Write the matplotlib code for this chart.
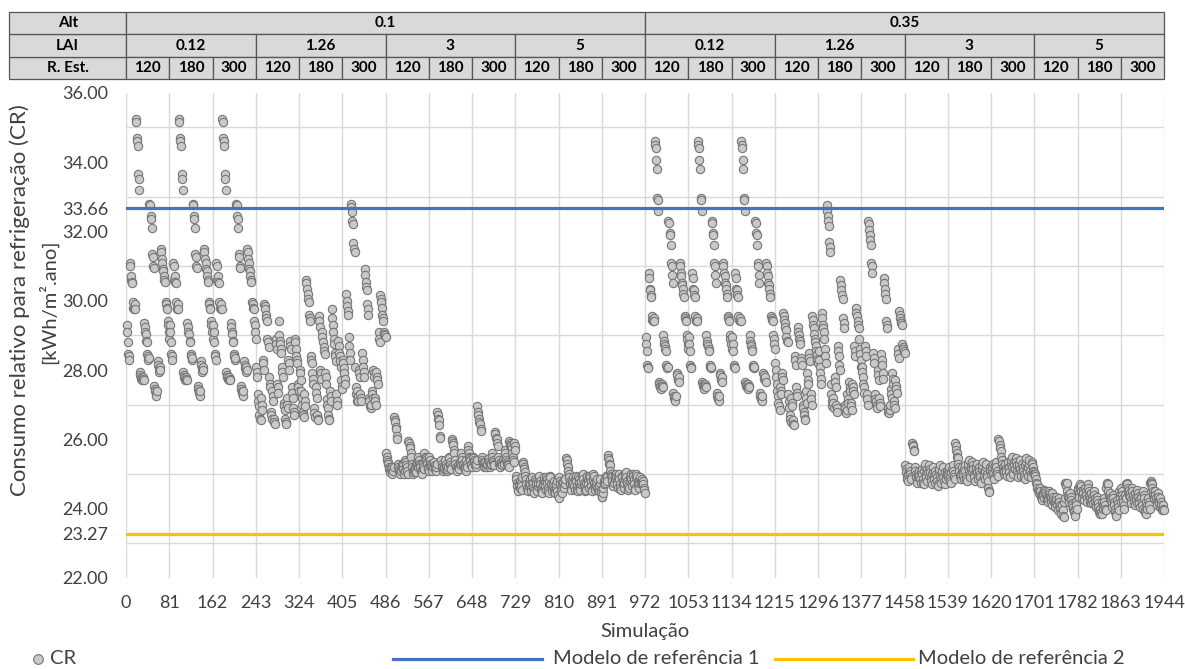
import matplotlib
matplotlib.use("Agg")
import matplotlib.pyplot as plt
from matplotlib.patches import Rectangle
from matplotlib.lines import Line2D
from matplotlib.ticker import MultipleLocator
import numpy as np

plt.rcParams['font.family'] = ['Lato', 'DejaVu Sans']

# ---------------- data ----------------
alt_vals = ["0.1", "0.35"]
lai_vals = ["0.12", "1.26", "3", "5"]
rest_vals = ["120", "180", "300"]
n_per = 81

ref1_label = "33.66"
ref1_level = 32.66   # level at which the line is drawn in the reference picture
ref2_label = "23.27"
ref2_level = 23.27

# Alt 0.1, LAI 0.12 (same pattern for R.Est 120/180/300)
A = [29.3, 29.1, 28.8, 28.45, 28.4, 28.3, 31.1, 31.0, 30.6,
     30.7, 30.55, 30.5, 29.95, 29.8, 29.75, 29.9, 29.75, 35.25,
     35.15, 34.7, 34.6, 34.45, 33.65, 33.5, 33.2, 27.95, 27.85,
     27.8, 27.75, 27.7, 27.8, 27.75, 27.7, 29.35, 29.25, 29.1,
     29.05, 28.85, 28.8, 28.45, 28.4, 28.3, 28.35, 32.8, 32.75,
     32.45, 32.35, 32.1, 31.35, 31.25, 31.0, 30.95, 27.55, 27.45,
     27.4, 27.35, 27.25, 27.4, 28.25, 28.15, 28.05, 27.95, 28.1,
     28.0, 31.5, 31.4, 31.2, 31.1, 30.9, 30.85, 30.7, 30.6,
     30.55, 29.95, 29.9, 29.8, 29.75, 29.4, 29.3, 29.1, 28.9]
# Alt 0.1, LAI 1.26
C1 = [28.1, 27.95, 27.8, 27.3, 27.1, 26.95, 26.7, 26.6, 26.55,
      27.2, 27.0, 26.85, 28.3, 28.2, 28.0, 29.9, 29.85, 29.75,
      29.6, 29.5, 29.4, 28.9, 28.8, 28.65, 27.8, 27.6, 27.5,
      26.8, 26.7, 26.6, 27.4, 27.25, 27.1, 26.6, 26.5, 26.45,
      28.9, 28.75, 28.6, 27.6, 27.5, 27.35, 29.4, 29.0, 28.85,
      28.75, 28.6, 28.5, 28.1, 27.95, 27.8, 27.05, 26.95, 26.85,
      26.6, 26.5, 26.45, 27.2, 27.0, 26.9, 28.3, 28.2, 28.0,
      28.85, 28.7, 28.6, 27.5, 27.35, 27.2, 26.9, 26.8, 26.7,
      28.9, 28.8, 28.6, 28.4, 28.3, 28.2, 27.6, 27.5, 27.4]
C2 = [28.0, 27.9, 27.7, 27.4, 27.2, 27.0, 26.8, 26.7, 26.65,
      27.3, 27.1, 26.95, 30.6, 30.5, 30.35, 30.2, 30.05, 29.95,
      29.6, 29.5, 29.4, 28.4, 28.3, 28.2, 27.9, 27.75, 27.6,
      26.9, 26.75, 26.65, 27.5, 27.35, 27.2, 26.7, 26.6, 26.55,
      29.55, 29.4, 29.25, 28.0, 27.9, 27.75, 29.1, 28.95, 28.8,
      28.65, 28.55, 28.45, 27.9, 27.8, 27.6, 27.15, 27.0, 26.9,
      26.7, 26.6, 26.55, 27.4, 27.25, 27.1, 29.75, 29.5, 29.3,
      29.1, 28.9, 28.75, 28.5, 28.4, 28.25, 27.3, 27.1, 27.0,
      28.85, 28.7, 28.5, 28.4, 28.25, 28.1, 27.7, 27.55, 27.45]
C3 = [28.3, 28.2, 28.05, 27.9, 27.75, 27.6, 30.2, 30.0, 29.85,
      29.7, 29.6, 28.95, 28.7, 28.5, 28.3, 32.8, 32.7, 32.55,
      32.3, 32.2, 31.65, 31.5, 31.4, 28.1, 27.5, 27.3, 27.1,
      27.4, 27.25, 27.1, 28.0, 27.9, 27.8, 27.3, 27.2, 27.1,
      28.5, 28.3, 28.1, 27.95, 27.8, 30.9, 30.75, 30.55, 30.4,
      30.3, 29.9, 29.75, 29.6, 27.2, 27.1, 26.95, 26.9, 27.0,
      27.4, 27.3, 27.2, 28.0, 27.9, 27.8, 27.2, 27.1, 27.0,
      27.95, 27.8, 27.7, 27.6, 29.1, 28.9, 28.8, 30.15, 30.05,
      29.95, 29.8, 29.6, 29.5, 29.4, 29.1, 29.05, 29.0, 28.95]
# Alt 0.1, LAI 3
D1 = [25.6, 25.5, 25.4, 25.35, 25.3, 25.2, 25.15, 25.1, 25.05,
      25.2, 25.15, 25.1, 25.0, 25.1, 25.2, 26.65, 26.55, 26.5,
      26.35, 26.3, 26.1, 26.0, 25.3, 25.2, 25.15, 25.1, 25.05,
      25.0, 25.1, 25.2, 25.3, 25.25, 25.15, 25.05, 25.0, 25.1,
      25.4, 25.35, 25.25, 25.2, 25.1, 25.0, 25.95, 25.9, 25.8,
      25.75, 25.6, 25.5, 25.3, 25.2, 25.1, 25.0, 25.05, 25.15,
      25.2, 25.1, 25.05, 25.3, 25.25, 25.2, 25.5, 25.4, 25.3,
      25.25, 25.2, 25.1, 25.1, 25.05, 25.0, 25.3, 25.2, 25.15,
      25.6, 25.5, 25.45, 25.4, 25.35, 25.3, 25.2, 25.15, 25.1]
D2 = [25.5, 25.4, 25.3, 25.25, 25.2, 25.15, 25.1, 25.2, 25.3,
      25.35, 25.25, 25.15, 25.1, 25.2, 25.3, 26.8, 26.7, 26.6,
      26.55, 26.4, 26.1, 26.05, 25.4, 25.3, 25.2, 25.15, 25.1,
      25.15, 25.2, 25.3, 25.4, 25.3, 25.2, 25.1, 25.15, 25.2,
      25.5, 25.45, 25.35, 25.25, 25.2, 25.15, 26.0, 25.95, 25.9,
      25.85, 25.7, 25.6, 25.4, 25.3, 25.2, 25.15, 25.1, 25.2,
      25.25, 25.2, 25.15, 25.35, 25.3, 25.25, 25.6, 25.5, 25.4,
      25.3, 25.25, 25.2, 25.2, 25.15, 25.1, 25.4, 25.3, 25.2,
      25.8, 25.7, 25.6, 25.5, 25.45, 25.4, 25.3, 25.25, 25.2]
D3 = [25.5, 25.45, 25.4, 25.35, 25.3, 25.25, 25.2, 25.3, 25.4,
      26.95, 26.8, 26.7, 26.6, 26.5, 26.45, 26.3, 26.25, 25.5,
      25.4, 25.35, 25.3, 25.25, 25.2, 25.3, 25.35, 25.25, 25.2,
      25.25, 25.3, 25.4, 25.45, 25.35, 25.3, 25.2, 25.25, 25.3,
      25.6, 25.5, 25.4, 25.35, 25.3, 25.25, 26.2, 26.15, 26.05,
      26.0, 25.9, 25.8, 25.5, 25.4, 25.3, 25.25, 25.2, 25.3,
      25.35, 25.3, 25.25, 25.4, 25.35, 25.3, 25.7, 25.6, 25.5,
      25.4, 25.35, 25.3, 25.3, 25.25, 25.2, 25.95, 25.9, 25.85,
      25.8, 25.75, 25.6, 25.5, 25.4, 25.35, 25.9, 25.8, 25.7]
# Alt 0.1, LAI 5
E1 = [24.95, 24.85, 24.75, 24.65, 24.55, 24.5, 24.7, 24.8, 24.6,
      24.75, 24.65, 24.55, 24.9, 25.35, 25.3, 25.2, 25.15, 25.05,
      24.95, 24.85, 24.7, 24.6, 24.55, 24.5, 24.65, 24.75, 24.85,
      24.7, 24.6, 24.5, 24.8, 24.9, 24.75, 24.6, 24.55, 24.45,
      24.85, 24.8, 24.7, 24.6, 24.5, 24.65, 24.75, 24.9, 24.95,
      24.8, 24.7, 24.6, 24.55, 24.5, 24.45, 24.7, 24.8, 24.9,
      24.75, 24.65, 24.55, 24.9, 24.85, 24.75, 24.6, 24.5, 24.45,
      24.8, 24.95, 24.9, 24.7, 24.6, 24.5, 24.65, 24.75, 24.8,
      24.55, 24.5, 24.45, 24.6, 24.7, 24.8, 24.5, 24.4, 24.3]
E2 = [24.9, 24.8, 24.7, 24.6, 24.5, 24.45, 24.7, 24.8, 24.75,
      24.65, 24.6, 24.7, 24.85, 25.45, 25.4, 25.3, 25.2, 25.1,
      25.0, 24.9, 24.8, 24.7, 24.6, 24.55, 24.7, 24.8, 24.9,
      24.75, 24.65, 24.55, 24.85, 24.95, 24.8, 24.65, 24.55, 24.5,
      24.9, 24.85, 24.75, 24.65, 24.55, 24.7, 24.8, 24.95, 25.0,
      24.85, 24.75, 24.65, 24.6, 24.5, 24.55, 24.75, 24.85, 24.95,
      24.8, 24.7, 24.6, 24.95, 24.9, 24.8, 24.65, 24.55, 24.5,
      24.85, 25.0, 24.95, 24.75, 24.65, 24.55, 24.7, 24.8, 24.85,
      24.6, 24.55, 24.5, 24.65, 24.75, 24.85, 24.55, 24.45, 24.35]
E3 = [24.35, 24.45, 24.6, 24.7, 24.8, 24.75, 24.85, 24.95, 24.9,
      24.8, 25.55, 25.45, 25.4, 25.3, 25.25, 25.1, 25.0, 24.95,
      24.9, 24.8, 24.7, 24.65, 24.75, 24.85, 24.95, 25.0, 24.9,
      24.8, 24.7, 24.6, 24.9, 25.0, 24.85, 24.7, 24.6, 24.55,
      24.95, 24.9, 24.8, 24.7, 24.6, 24.75, 24.85, 25.0, 25.05,
      24.9, 24.8, 24.7, 24.65, 24.55, 24.6, 24.8, 24.9, 25.0,
      24.85, 24.75, 24.65, 25.0, 24.95, 24.85, 24.7, 24.6, 24.55,
      24.9, 25.0, 24.95, 24.8, 24.7, 24.6, 24.75, 24.85, 24.9,
      24.8, 24.75, 24.7, 24.85, 24.8, 24.7, 24.6, 24.55, 24.45]
# Alt 0.35, LAI 0.12 (same pattern for R.Est 120/180/300)
B = [28.95, 28.75, 28.55, 28.15, 28.1, 28.05, 30.8, 30.65, 30.35,
     30.3, 30.15, 30.1, 29.55, 29.45, 29.4, 29.5, 29.4, 34.6,
     34.5, 34.4, 34.05, 33.8, 32.95, 32.9, 32.6, 27.65, 27.6,
     27.55, 27.5, 27.45, 27.6, 27.55, 27.5, 29.0, 28.85, 28.75,
     28.7, 28.6, 28.55, 28.15, 28.1, 28.05, 28.1, 32.3, 32.25,
     31.95, 31.9, 31.6, 31.1, 31.0, 30.75, 30.5, 27.35, 27.25,
     27.2, 27.15, 27.1, 27.25, 27.9, 27.85, 27.75, 27.7, 27.8,
     27.65, 31.1, 31.0, 30.8, 30.7, 30.5, 30.45, 30.35, 30.2,
     30.1, 29.55, 29.5, 29.45, 29.4, 29.0, 28.9, 28.75, 28.6]
# Alt 0.35, LAI 1.26
F1 = [28.2, 28.0, 27.8, 27.6, 27.4, 27.25, 27.05, 26.95, 26.85,
      27.5, 27.4, 27.3, 27.9, 27.8, 27.7, 29.65, 29.55, 29.45,
      29.35, 29.25, 29.15, 28.95, 28.85, 28.8, 27.3, 27.1, 26.9,
      26.7, 26.6, 26.5, 27.2, 27.05, 26.95, 26.55, 26.45, 26.4,
      28.4, 28.3, 28.15, 27.5, 27.35, 27.25, 29.25, 29.1, 29.0,
      28.9, 28.85, 28.75, 28.35, 28.25, 28.15, 27.0, 26.9, 26.8,
      26.7, 26.6, 26.55, 27.4, 27.2, 27.05, 27.9, 27.7, 27.6,
      28.5, 28.35, 28.25, 27.3, 27.15, 27.0, 29.55, 29.45, 29.3,
      29.2, 29.05, 28.9, 28.8, 28.7, 28.55, 28.45, 28.3, 28.2]
F2 = [28.55, 28.3, 28.1, 27.9, 27.75, 27.6, 29.65, 29.5, 29.3,
      29.2, 29.1, 28.9, 28.6, 28.4, 28.2, 32.75, 32.6, 32.45,
      32.3, 32.15, 31.7, 31.55, 31.4, 27.6, 27.3, 27.1, 26.95,
      27.2, 27.05, 26.9, 27.8, 27.65, 27.5, 27.0, 26.9, 26.8,
      28.7, 28.55, 28.4, 28.15, 28.0, 30.6, 30.45, 30.3, 30.15,
      30.05, 29.5, 29.35, 29.2, 27.0, 26.9, 26.8, 26.75, 26.85,
      27.3, 27.15, 27.05, 27.65, 27.5, 27.4, 27.05, 26.95, 26.85,
      27.6, 27.5, 27.4, 27.3, 28.7, 28.55, 28.4, 29.8, 29.65,
      29.55, 29.4, 29.3, 29.2, 28.9, 28.6, 28.45, 28.3, 28.1]
F3 = [28.1, 27.95, 27.8, 27.6, 27.5, 27.35, 28.7, 28.55, 28.4,
      27.3, 27.15, 27.0, 32.3, 32.2, 32.05, 31.9, 31.75, 31.6,
      31.1, 31.0, 30.8, 28.5, 28.35, 28.2, 27.3, 27.15, 27.05,
      27.1, 27.0, 26.9, 28.0, 27.85, 27.7, 27.2, 27.05, 26.95,
      28.45, 28.3, 28.15, 27.9, 27.75, 30.65, 30.5, 30.35, 30.2,
      30.05, 29.4, 29.3, 29.2, 26.9, 26.8, 26.75, 26.85, 27.0,
      27.45, 27.3, 27.2, 27.9, 27.75, 27.6, 27.1, 27.0, 26.9,
      27.7, 27.55, 27.45, 27.35, 28.6, 28.45, 28.35, 29.7, 29.6,
      29.5, 29.4, 29.35, 29.3, 28.75, 28.65, 28.6, 28.55, 28.5]
# Alt 0.35, LAI 3
G1 = [25.25, 25.15, 25.05, 24.95, 24.85, 24.8, 25.0, 25.1, 25.2,
      25.1, 25.0, 24.9, 24.85, 25.9, 25.85, 25.8, 25.7, 25.65,
      25.2, 25.1, 25.0, 24.9, 24.8, 24.75, 24.9, 25.0, 25.1,
      24.95, 24.85, 24.75, 25.05, 25.15, 25.0, 24.85, 24.75, 24.7,
      25.1, 25.2, 25.3, 25.0, 24.9, 24.8, 25.15, 25.05, 24.95,
      25.25, 25.15, 25.05, 24.9, 24.8, 24.7, 25.0, 25.1, 25.2,
      24.95, 24.85, 24.75, 25.1, 25.0, 24.9, 24.8, 24.7, 24.65,
      25.05, 25.15, 25.25, 24.95, 24.85, 24.75, 25.0, 25.1, 25.2,
      24.9, 24.8, 24.7, 25.05, 24.95, 24.85, 25.1, 25.0, 24.9]
G2 = [25.0, 25.1, 25.2, 24.9, 24.8, 24.75, 25.05, 25.15, 25.25,
      25.1, 25.0, 24.9, 24.85, 25.9, 25.8, 25.7, 25.6, 25.5,
      25.45, 25.3, 25.2, 25.1, 24.95, 24.85, 25.0, 25.1, 25.2,
      25.05, 24.95, 24.85, 25.15, 25.25, 25.1, 24.95, 24.85, 24.8,
      25.2, 25.3, 25.4, 25.1, 25.0, 24.9, 25.25, 25.15, 25.05,
      25.35, 25.25, 25.15, 25.0, 24.9, 24.8, 25.1, 25.2, 25.3,
      25.05, 24.95, 24.85, 25.2, 25.1, 25.0, 24.9, 24.8, 24.75,
      25.15, 25.25, 25.35, 25.05, 24.95, 24.85, 25.1, 25.2, 25.3,
      25.0, 24.9, 24.8, 24.6, 24.5, 24.48, 25.2, 25.1, 25.0]
G3 = [25.1, 25.2, 25.3, 25.0, 24.9, 24.85, 25.15, 25.25, 25.35,
      25.2, 25.1, 25.0, 24.95, 26.0, 25.95, 25.85, 25.75, 25.65,
      25.5, 25.4, 25.3, 25.2, 25.1, 25.0, 25.1, 25.2, 25.3,
      25.15, 25.05, 24.95, 25.25, 25.35, 25.2, 25.05, 24.95, 24.9,
      25.3, 25.4, 25.5, 25.2, 25.1, 25.0, 25.35, 25.25, 25.15,
      25.45, 25.35, 25.25, 25.1, 25.0, 24.9, 25.2, 25.3, 25.4,
      25.15, 25.05, 24.95, 25.3, 25.2, 25.1, 25.0, 24.9, 24.85,
      25.25, 25.35, 25.45, 25.15, 25.05, 24.95, 25.2, 25.3, 25.4,
      25.1, 25.0, 24.9, 25.35, 25.3, 25.2, 25.1, 25.05, 25.0]
# Alt 0.35, LAI 5
H1 = [25.0, 24.95, 24.85, 24.75, 24.7, 24.6, 24.55, 24.5, 24.45,
      24.6, 24.5, 24.4, 24.35, 24.3, 24.25, 24.45, 24.4, 24.3,
      24.55, 24.5, 24.45, 24.4, 24.35, 24.25, 24.2, 24.3, 24.4,
      24.5, 24.45, 24.35, 24.3, 24.2, 24.1, 24.45, 24.35, 24.25,
      24.2, 24.15, 24.05, 24.35, 24.25, 24.15, 24.1, 24.0, 23.95,
      24.3, 24.2, 24.1, 24.0, 23.9, 23.85, 24.1, 23.95, 23.8,
      23.75, 24.2, 24.3, 24.75, 24.7, 24.65, 24.75, 24.5, 24.4,
      24.35, 24.3, 24.2, 24.45, 24.35, 24.25, 24.15, 24.1, 24.0,
      24.05, 23.95, 23.9, 23.85, 23.8, 24.2, 24.1, 24.0, 24.6]
H2 = [24.55, 24.45, 24.35, 24.6, 24.7, 24.65, 24.5, 24.4, 24.3,
      24.55, 24.45, 24.35, 24.25, 24.6, 24.5, 24.4, 24.3, 24.2,
      24.7, 24.6, 24.5, 24.4, 24.3, 24.2, 24.15, 24.45, 24.35,
      24.25, 24.15, 24.5, 24.4, 24.3, 24.2, 24.1, 24.05, 24.35,
      24.25, 24.15, 24.05, 23.95, 23.9, 23.85, 24.0, 23.9, 23.85,
      24.2, 24.1, 24.0, 24.3, 24.2, 24.1, 24.0, 23.95, 24.6,
      24.7, 24.75, 24.7, 24.5, 24.4, 24.3, 24.45, 24.35, 24.25,
      24.15, 24.05, 24.4, 24.3, 24.2, 24.1, 24.0, 23.9, 23.85,
      23.8, 24.25, 24.15, 24.05, 23.95, 24.5, 24.4, 24.3, 24.2]
H3 = [24.6, 24.5, 24.4, 24.3, 24.2, 24.1, 24.0, 24.4, 24.3,
      24.7, 24.75, 24.7, 24.6, 24.5, 24.4, 24.55, 24.45, 24.35,
      24.25, 24.15, 24.6, 24.5, 24.4, 24.3, 24.2, 24.1, 24.45,
      24.35, 24.25, 24.15, 24.55, 24.45, 24.35, 24.25, 24.15, 24.05,
      24.4, 24.3, 24.2, 24.1, 24.0, 24.5, 24.4, 24.3, 23.95,
      23.9, 23.85, 24.2, 24.1, 24.0, 24.3, 24.2, 24.1, 24.0,
      24.75, 24.8, 24.75, 24.7, 24.6, 24.5, 24.4, 24.35, 24.3,
      24.5, 24.4, 24.3, 24.2, 24.1, 24.45, 24.35, 24.25, 24.15,
      24.05, 24.3, 24.2, 24.1, 24.0, 23.95, 24.1, 24.0, 23.95]

blocks = [A, A, A, C1, C2, C3, D1, D2, D3, E1, E2, E3,
          B, B, B, F1, F2, F3, G1, G2, G3, H1, H2, H3]
cr = np.concatenate([np.asarray(b, dtype=float) for b in blocks])
sim = np.arange(1, len(cr) + 1)

# ---------------- figure ----------------
W, H = 1185, 669
fig = plt.figure(figsize=(W / 100, H / 100), dpi=100)
fig.patch.set_facecolor("white")

PL, PR, PT, PB = 126, 1164, 92.7, 578.0
ax = fig.add_axes([PL / W, 1 - PB / H, (PR - PL) / W, (PB - PT) / H])

grid_c = "#d9d9d9"
txt_c = "#404040"
ax.scatter(sim, cr, s=36, facecolor="#c9c9c9", edgecolor="#767676",
           linewidth=0.8, zorder=3, clip_on=False)
ax.axhline(ref1_level, color="#4472c4", lw=2.3, zorder=4)
ax.axhline(ref2_level, color="#ffc000", lw=2.3, zorder=4)

xmax = n_per * len(rest_vals) * len(lai_vals) * len(alt_vals)
ax.set_xlim(0, xmax)
ax.set_ylim(22, 36)
ax.set_xticks(np.arange(0, xmax + 1, n_per))
ax.set_xticklabels([str(v) for v in np.arange(0, xmax + 1, n_per)])

yt = [22, ref2_level, 24, 26, 28, 30, 32, ref1_level, 34, 36]
ylab = ["22.00", ref2_label, "24.00", "26.00", "28.00", "30.00", "32.00",
        ref1_label, "34.00", "36.00"]
ax.set_yticks(yt)
ax.set_yticklabels(ylab)
ax.yaxis.set_minor_locator(MultipleLocator(1))
ax.grid(False)
ax.grid(True, axis="x", which="major", color=grid_c, lw=1.0, zorder=0)
ax.grid(True, axis="y", which="minor", color=grid_c, lw=1.0, zorder=0)
ax.tick_params(axis="both", which="both", length=0, labelsize=13,
               labelcolor=txt_c)
ax.tick_params(axis="y", pad=13)
ax.tick_params(axis="x", pad=12)
for s in ax.spines.values():
    s.set_visible(False)
ax.set_axisbelow(True)

ax.set_xlabel("Simulação", fontsize=14.5, color=txt_c, labelpad=9)

fig.text(20 / W, 1 - 300 / H, "Consumo relativo para refrigeração (CR)",
         rotation=90, ha="center", va="center", fontsize=16, color=txt_c)
fig.text(48 / W, 1 - 302 / H, "[kWh/m².ano]",
         rotation=90, ha="center", va="center", fontsize=14.5, color=txt_c)

# ---------------- header table ----------------
HT, HB = 11.7, 79.3
axh = fig.add_axes([PL / W, 1 - HB / H, (PR - PL) / W, (HB - HT) / H])
axh.set_xlim(0, xmax)
axh.set_ylim(0, 3)
axh.axis("off")
fill = "#d9d9d9"
edge = "#555555"
hfs = 11
x_left = -(PL - 9.3) * xmax / (PR - PL)

row_names = ["R. Est.", "LAI", "Alt"]
for r, name in enumerate(row_names):
    axh.add_patch(Rectangle((x_left, r), -x_left, 1, facecolor=fill,
                            edgecolor=edge, lw=0.9, clip_on=False))
    axh.text(x_left / 2, r + 0.5, name, ha="center", va="center",
             fontsize=hfs, fontweight="bold", color="black", clip_on=False)

span_alt = xmax // len(alt_vals)
span_lai = span_alt // len(lai_vals)
for i, a in enumerate(alt_vals):
    axh.add_patch(Rectangle((i * span_alt, 2), span_alt, 1, facecolor=fill,
                            edgecolor=edge, lw=0.9, clip_on=False))
    axh.text(i * span_alt + span_alt / 2, 2.5, a, ha="center", va="center",
             fontsize=hfs, fontweight="bold", clip_on=False)
    for j, l in enumerate(lai_vals):
        x0 = i * span_alt + j * span_lai
        axh.add_patch(Rectangle((x0, 1), span_lai, 1, facecolor=fill,
                                edgecolor=edge, lw=0.9, clip_on=False))
        axh.text(x0 + span_lai / 2, 1.5, l, ha="center", va="center",
                 fontsize=hfs, fontweight="bold", clip_on=False)
        for k, rv in enumerate(rest_vals):
            xr = x0 + k * n_per
            axh.add_patch(Rectangle((xr, 0), n_per, 1, facecolor=fill,
                                    edgecolor=edge, lw=0.9, clip_on=False))
            axh.text(xr + n_per / 2, 0.5, rv, ha="center", va="center",
                     fontsize=hfs, fontweight="bold", clip_on=False)

# ---------------- legend ----------------
ly = 1 - 659 / H
lfs = 14.5
fig.add_artist(Line2D([38 / W], [ly], marker="o", markersize=7,
                      markerfacecolor="#c9c9c9", markeredgecolor="#767676",
                      markeredgewidth=0.8, linestyle="none",
                      transform=fig.transFigure))
fig.text(50 / W, ly, "CR", ha="left", va="center", fontsize=lfs, color=txt_c)
fig.add_artist(Line2D([393 / W, 542 / W], [ly, ly], color="#4472c4", lw=2.3,
                      transform=fig.transFigure))
fig.text(553 / W, ly, "Modelo de referência 1", ha="left", va="center",
         fontsize=lfs, color=txt_c)
fig.add_artist(Line2D([775 / W, 913 / W], [ly, ly], color="#ffc000", lw=2.3,
                      transform=fig.transFigure))
fig.text(918 / W, ly, "Modelo de referência 2", ha="left", va="center",
         fontsize=lfs, color=txt_c)

fig.savefig("out.png", dpi=100, facecolor="white")
